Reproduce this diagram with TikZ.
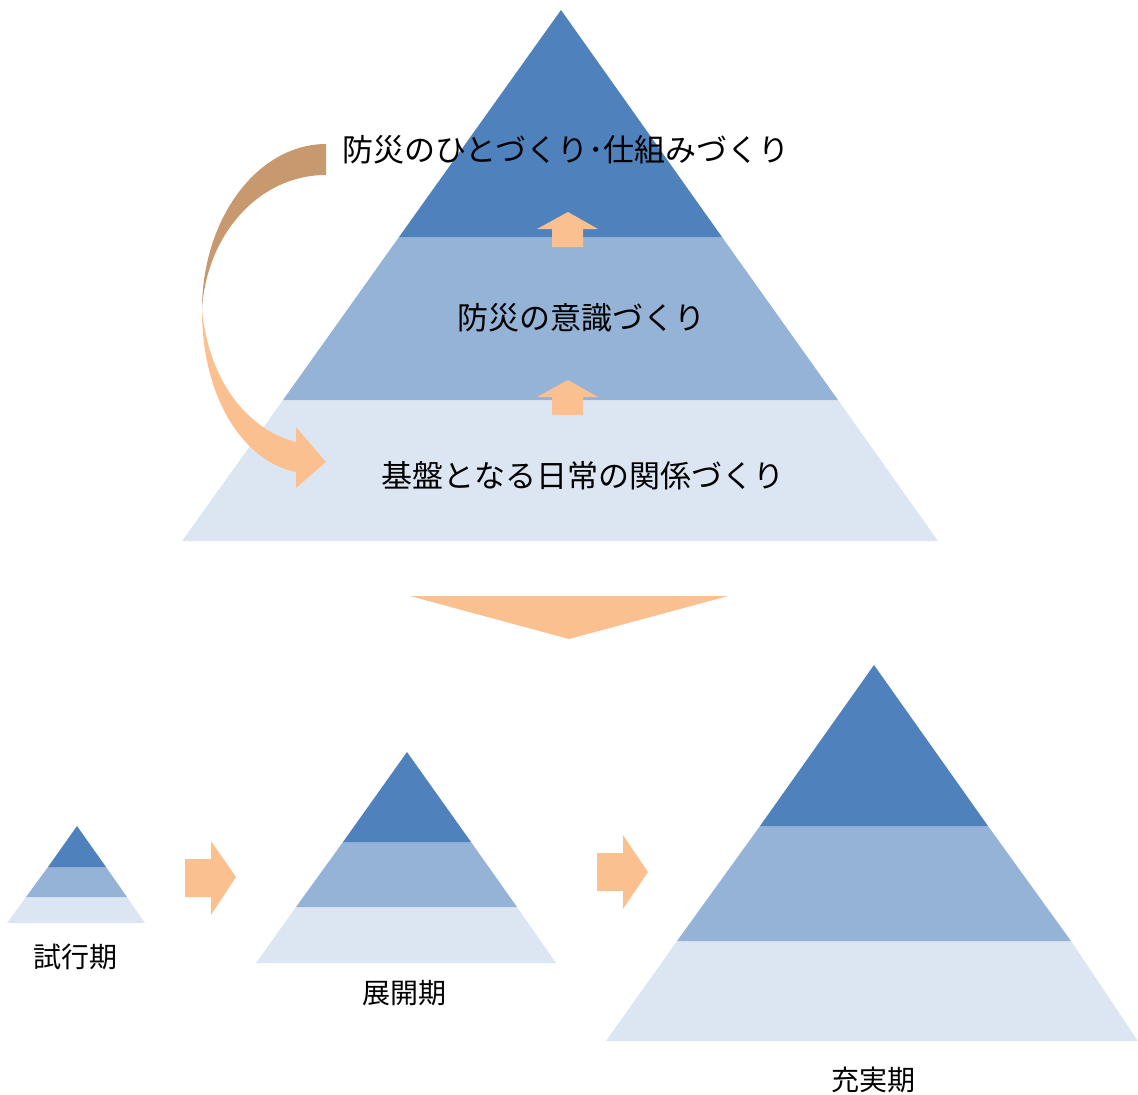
\documentclass[tikz,border=0pt]{standalone}
\usepackage{fontspec}
\newfontfamily\jpfont{Noto Sans CJK JP}
\definecolor{tdark}{HTML}{4F81BD}
\definecolor{tmid}{HTML}{95B3D7}
\definecolor{tlight}{HTML}{DCE6F2}
\definecolor{aorange}{HTML}{FAC090}
\definecolor{abrown}{HTML}{C8996F}
\tikzset{
  lbl/.style={inner sep=0pt, text=black, font=\jpfont\fontsize{31}{36}\selectfont},
  slbl/.style={inner sep=0pt, text=black, font=\jpfont\fontsize{28}{32}\selectfont},
  arr/.style={fill=aorange, draw=none},
}
\begin{document}
\begin{tikzpicture}[x=1pt,y=-1pt]
\useasboundingbox (0,0) rectangle (1138,1095);
% big pyramid
\fill[tlight] (283,400) -- (838,400) -- (938,541) -- (182,541) -- cycle;
\fill[tmid] (399,237) -- (722,237) -- (838,400) -- (283,400) -- cycle;
\fill[tdark] (561,10) -- (722,237) -- (399,237) -- cycle;
% up arrows
\fill[arr] (568,212) -- (598,229) -- (583,229) -- (583,247) -- (552,247) -- (552,229) -- (537,229) -- cycle;
\fill[arr] (568,380) -- (598,397) -- (583,397) -- (583,415) -- (552,415) -- (552,397) -- (537,397) -- cycle;
% curved arrow
\fill[abrown] (326,144) .. controls (258,144) and (202,218) .. (202,310)
  .. controls (206,236) and (258,175) .. (326,175) -- cycle;
\fill[arr] (202,310) .. controls (202,400) and (245,462) .. (296,472) -- (296,488) -- (326,462)
  -- (296,427) -- (296,442) .. controls (255,432) and (210,390) .. (202,310) -- cycle;
% texts
\node[lbl] (t1) at (566,150) {防災のひとづくり･仕組みづくり};
\node[lbl] (t2) at (581,318) {防災の意識づくり};
\node[lbl] (t3) at (583,476) {基盤となる日常の関係づくり};
% chevron
\fill[arr] (410,596) -- (728,596) -- (569,639) -- cycle;
% small pyramid
\fill[tlight] (26,897) -- (127,897) -- (145,923) -- (7,923) -- cycle;
\fill[tmid] (48,867) -- (106,867) -- (127,897) -- (26,897) -- cycle;
\fill[tdark] (77,826) -- (106,867) -- (48,867) -- cycle;
\node[slbl] (s1) at (75,957) {試行期};
% right arrow 1
\fill[arr] (185,859) -- (211,859) -- (211,841) -- (236,877) -- (211,915) -- (211,897) -- (185,897) -- cycle;
% middle pyramid
\fill[tlight] (296,907) -- (517,907) -- (556,963) -- (256,963) -- cycle;
\fill[tmid] (343,842) -- (471,842) -- (517,907) -- (296,907) -- cycle;
\fill[tdark] (407,752) -- (471,842) -- (343,842) -- cycle;
\node[slbl] (s2) at (404,993) {展開期};
% right arrow 2
\fill[arr] (597,853) -- (623,853) -- (623,835) -- (648,872) -- (623,909) -- (623,891) -- (597,891) -- cycle;
% large pyramid
\fill[tlight] (677,941) -- (1071,941) -- (1138,1041) -- (606,1041) -- cycle;
\fill[tmid] (760,826) -- (988,826) -- (1071,941) -- (677,941) -- cycle;
\fill[tdark] (874,665) -- (988,826) -- (760,826) -- cycle;
\node[slbl] (s3) at (873,1080) {充実期};
\end{tikzpicture}
\end{document}
